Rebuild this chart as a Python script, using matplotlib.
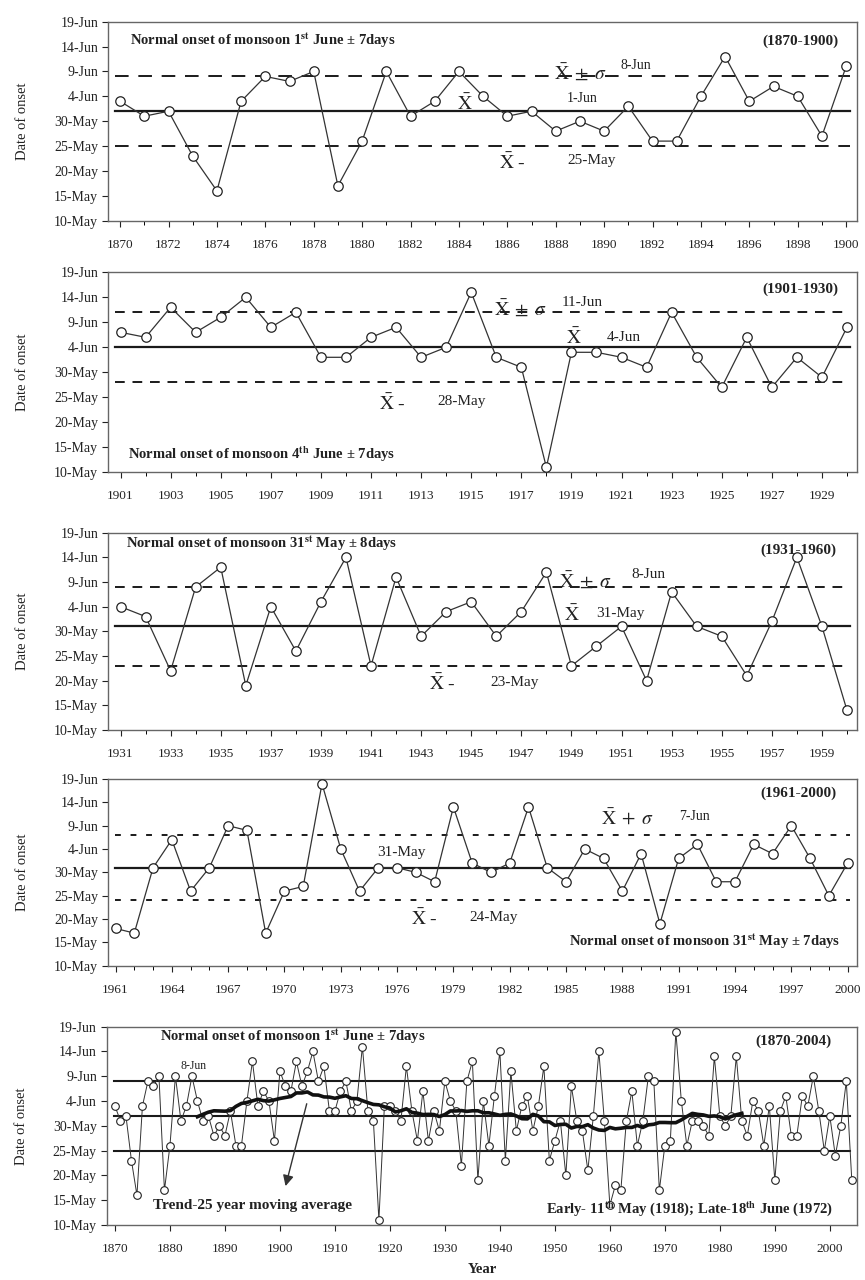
import numpy as np
import pandas as pd
import matplotlib
matplotlib.use("Agg")
import matplotlib.pyplot as plt
from matplotlib.ticker import MultipleLocator

plt.rcParams['font.family'] = ['Liberation Serif', 'DejaVu Serif']
plt.rcParams['mathtext.fontset'] = 'stix'

# onset dates as day counts: 1 = 1-May, 31 = 31-May, 32 = 1-Jun
years_1870_1900 = list(range(1870, 1901))
onset_1870_1900 = [34, 31, 32, 23, 16, 34, 39, 38, 40, 17,
                   26, 40, 31, 34, 40, 35, 31, 32, 28, 30,
                   28, 33, 26, 26, 35, 43, 34, 37, 35, 27, 41]

years_1901_1930 = list(range(1901, 1931))
onset_1901_1930 = [38, 37, 43, 38, 41, 45, 39, 42, 33, 33,
                   37, 39, 33, 35, 46, 33, 31, 11, 34, 34,
                   33, 31, 42, 33, 27, 37, 27, 33, 29, 39]

years_1931_1960 = list(range(1931, 1961))
onset_1931_1960 = [35, 33, 22, 39, 43, 19, 35, 26, 36, 45,
                   23, 41, 29, 34, 36, 29, 34, 42, 23, 27,
                   31, 20, 38, 31, 29, 21, 32, 45, 31, 14]

years_1961_2000 = list(range(1961, 2001))
onset_1961_2000 = [18, 17, 31, 37, 26, 31, 40, 39, 17, 26,
                   27, 49, 35, 26, 31, 31, 30, 28, 44, 32,
                   30, 32, 44, 31, 28, 35, 33, 26, 34, 19,
                   33, 36, 28, 28, 36, 34, 40, 33, 25, 32]

years_2001_2004 = [2001, 2002, 2003, 2004]
onset_2001_2004 = [24, 30, 39, 19]

# mean and mean +/- sigma for each period
mean_days = [32, 35, 31, 31]
upper_days = [39, 42, 39, 38]
lower_days = [25, 28, 23, 24]

yticks = [10, 15, 20, 25, 30, 35, 40, 45, 50]
ytick_labels = ['10-May', '15-May', '20-May', '25-May', '30-May',
                '4-Jun', '9-Jun', '14-Jun', '19-Jun']

TXT = '#222222'
XBAR = r'$\mathrm{\bar{X}}$'
XPM = r'$\mathrm{\bar{X}}\;\pm\;\sigma$'
XPLUS = r'$\mathrm{\bar{X}}\;+\;\sigma$'


def style_axis(ax, xlim):
    ax.set_xlim(*xlim)
    ax.set_ylim(10, 50)
    ax.set_yticks(yticks)
    ax.set_yticklabels(ytick_labels)
    ax.tick_params(direction='out', length=4, width=0.8, labelsize=10,
                   colors=TXT, pad=3)
    ax.tick_params(axis='x', which='both', pad=9, labelsize=9.5)
    ax.tick_params(axis='x', which='minor', length=3, width=0.7)
    ax.set_ylabel('Date of onset', fontsize=10.5, color=TXT, labelpad=18)
    for s in ax.spines.values():
        s.set_color('#666666')
        s.set_linewidth(1.0)


fig = plt.figure(figsize=(8.65, 12.8), dpi=100)

L, W = 108 / 865, 749 / 865
boxes = [
    (L, 1 - 220.7 / 1280, W, 199 / 1280),
    (L, 1 - 472.3 / 1280, W, 200 / 1280),
    (L, 1 - 730.0 / 1280, W, 197.3 / 1280),
    (L, 1 - 965.8 / 1280, W, 186.8 / 1280),
]

periods = [
    (years_1870_1900, onset_1870_1900, (1869.5, 1900.45), 1870, 2, (7, 5)),
    (years_1901_1930, onset_1901_1930, (1900.5, 1930.4), 1901, 2, (5, 4)),
    (years_1931_1960, onset_1931_1960, (1930.5, 1960.4), 1931, 2, (5, 4)),
    (years_1961_2000, onset_1961_2000, (1960.6, 2000.5), 1961, 3, (3, 5)),
]

axes = []
for i, (yrs, vals, xlim, first, step, dash) in enumerate(periods):
    ax = fig.add_axes(boxes[i])
    axes.append(ax)
    ax.axhline(mean_days[i], color='#1a1a1a', lw=1.6, xmin=0.01, xmax=0.99)
    ax.axhline(upper_days[i], color='#1a1a1a', lw=1.4, dashes=dash,
               xmin=0.01, xmax=0.99)
    ax.axhline(lower_days[i], color='#1a1a1a', lw=1.4, dashes=dash,
               xmin=0.01, xmax=0.99)
    ax.plot(yrs, vals, color='#333333', lw=0.9, marker='o', ms=6.8,
            mfc='white', mec='#222222', mew=0.9, zorder=3)
    style_axis(ax, xlim)
    ax.set_xticks(list(range(first, int(xlim[1]) + 1, step)))
    ax.xaxis.set_minor_locator(MultipleLocator(1))

bold = dict(fontsize=10.5, fontweight='bold', color=TXT)
tag = dict(fontsize=11, fontweight='bold', color=TXT)
small = dict(fontsize=10, color=TXT)
med = dict(fontsize=11, color=TXT)
big = dict(fontsize=14, color=TXT)

ST = r'$^{\mathbf{st}}$'
TH = r'$^{\mathbf{th}}$'

# panel 1
ax = axes[0]
ax.text(0.029, 0.905, 'Normal onset of monsoon 1' + ST + ' June ± 7days',
        transform=ax.transAxes, va='center', **bold)
ax.text(0.975, 0.903, '(1870-1900)', transform=ax.transAxes, ha='right',
        va='center', **tag)
ax.text(0.596, 0.745, XPM, transform=ax.transAxes, va='center', **big)
ax.text(0.684, 0.782, '8-Jun', transform=ax.transAxes, va='center', **small)
ax.text(0.466, 0.590, XBAR, transform=ax.transAxes, va='center', **big)
ax.text(0.613, 0.612, '1-Jun', transform=ax.transAxes, va='center', **small)
ax.text(0.522, 0.290, XBAR + ' -', transform=ax.transAxes, va='center', **big)
ax.text(0.613, 0.300, '25-May', transform=ax.transAxes, va='center', **med)

# panel 2
ax = axes[1]
ax.text(0.975, 0.915, '(1901-1930)', transform=ax.transAxes, ha='right',
        va='center', **tag)
ax.text(0.515, 0.822, XPM, transform=ax.transAxes, va='center', **big)
ax.text(0.606, 0.850, '11-Jun', transform=ax.transAxes, va='center', **med)
ax.text(0.611, 0.672, XBAR, transform=ax.transAxes, va='center', **big)
ax.text(0.666, 0.672, '4-Jun', transform=ax.transAxes, va='center', **med)
ax.text(0.362, 0.342, XBAR + ' -', transform=ax.transAxes, va='center', **big)
ax.text(0.440, 0.353, '28-May', transform=ax.transAxes, va='center', **med)
ax.text(0.027, 0.088, 'Normal onset of monsoon 4' + TH + ' June ± 7days',
        transform=ax.transAxes, va='center', **bold)

# panel 3
ax = axes[2]
ax.text(0.024, 0.945, 'Normal onset of monsoon 31' + ST + ' May ± 8days',
        transform=ax.transAxes, va='center', **bold)
ax.text(0.972, 0.912, '(1931-1960)', transform=ax.transAxes, ha='right',
        va='center', **tag)
ax.text(0.602, 0.760, XPM, transform=ax.transAxes, va='center', **big)
ax.text(0.699, 0.788, '8-Jun', transform=ax.transAxes, va='center', **med)
ax.text(0.609, 0.585, XBAR, transform=ax.transAxes, va='center', **big)
ax.text(0.652, 0.590, '31-May', transform=ax.transAxes, va='center', **med)
ax.text(0.428, 0.235, XBAR + ' -', transform=ax.transAxes, va='center', **big)
ax.text(0.510, 0.240, '23-May', transform=ax.transAxes, va='center', **med)

# panel 4
ax = axes[3]
ax.text(0.972, 0.923, '(1961-2000)', transform=ax.transAxes, ha='right',
        va='center', **tag)
ax.text(0.658, 0.795, XPLUS, transform=ax.transAxes, va='center', **big)
ax.text(0.762, 0.798, '7-Jun', transform=ax.transAxes, va='center', **small)
ax.text(0.360, 0.607, '31-May', transform=ax.transAxes, va='center', **med)
ax.text(0.404, 0.254, XBAR + ' -', transform=ax.transAxes, va='center', **big)
ax.text(0.483, 0.260, '24-May', transform=ax.transAxes, va='center', **med)
ax.text(0.977, 0.133, 'Normal onset of monsoon 31' + ST + ' May ± 7days',
        transform=ax.transAxes, ha='right', va='center', **bold)

# panel 5: whole record with 25-year moving average
all_years = (years_1870_1900 + years_1901_1930 + years_1931_1960 +
             years_1961_2000 + years_2001_2004)
all_onset = (onset_1870_1900 + onset_1901_1930 + onset_1931_1960 +
             onset_1961_2000 + onset_2001_2004)
series = pd.Series(all_onset, index=all_years, dtype=float)
trend = series.rolling(25, center=True).mean().loc[1885:1984]

ax5 = fig.add_axes((106.7 / 865, 1 - 1225 / 1280, 750.6 / 865, 198.3 / 1280))
for lvl in (39, 32, 25):
    ax5.axhline(lvl, color='#1a1a1a', lw=1.5, xmin=0.01, xmax=0.99)
ax5.plot(series.index, series.values, color='#333333', lw=0.7, marker='o',
         ms=5.5, mfc='white', mec='#222222', mew=0.8, zorder=3)
ax5.plot(trend.index, trend.values, color='#111111', lw=2.6, zorder=4)
style_axis(ax5, (1868.5, 2005.0))
ax5.set_xticks(list(range(1870, 2001, 10)))
ax5.set_xlabel('Year', fontsize=10.5, fontweight='bold', color=TXT, labelpad=6)

ax5.text(0.071, 0.950, 'Normal onset of monsoon 1' + ST + ' June ± 7days',
         transform=ax5.transAxes, va='center', **bold)
ax5.text(0.966, 0.929, '(1870-2004)', transform=ax5.transAxes, ha='right',
         va='center', **tag)
ax5.text(0.098, 0.800, '8-Jun', transform=ax5.transAxes, va='center',
         fontsize=8.5, color=TXT)
ax5.text(0.062, 0.100, 'Trend-25 year moving average',
         transform=ax5.transAxes, va='center', fontsize=11, fontweight='bold',
         color=TXT)
ax5.text(0.968, 0.084,
         'Early- 11' + TH + ' May (1918); Late-18' + TH + ' June (1972)',
         transform=ax5.transAxes, ha='right', va='center', **bold)
ax5.annotate('', xy=(1900.9, 17.3), xytext=(1905.0, 35.0),
             arrowprops=dict(arrowstyle='-|>', lw=1.0, color='#333333',
                             mutation_scale=16))

fig.savefig('out.png', dpi=100)
